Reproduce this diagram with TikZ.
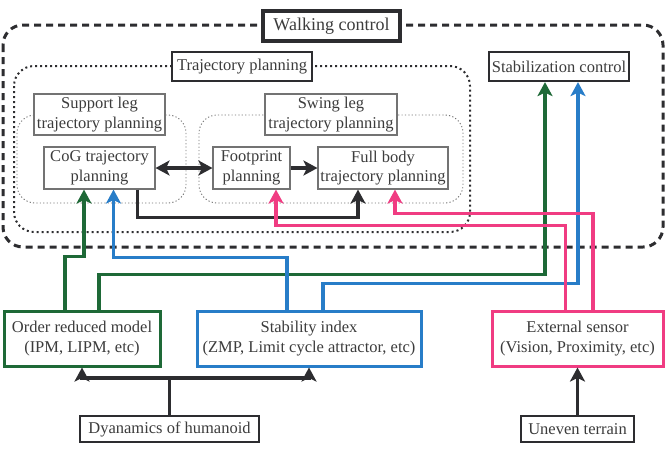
\documentclass[tikz,border=0pt]{standalone}
\usepackage{fontspec}
\setmainfont{Liberation Serif}
\usetikzlibrary{arrows.meta}
\definecolor{cgreen}{RGB}{30,105,55}
\definecolor{cblue}{RGB}{40,125,200}
\definecolor{cpink}{RGB}{240,60,130}
\definecolor{cdark}{RGB}{45,45,48}
\definecolor{ctext}{RGB}{60,60,60}
\definecolor{cgrayb}{RGB}{115,115,115}
\tikzset{
  txt/.style={font=\fontsize{16.5}{19.5}\selectfont, text=ctext, align=center, inner sep=0pt},
  bigbox/.style={txt, draw=cdark, line width=2.2pt, fill=white},
  smallbox/.style={txt, draw=cgrayb, line width=1.1pt, fill=white},
  colbox/.style={txt, line width=3pt, fill=white},
  arr/.style={line width=3.6pt, -{Stealth[length=14pt,width=15pt,inset=3.5pt]}},
  dblarr/.style={line width=3.6pt, {Stealth[length=14pt,width=15pt,inset=3.5pt]}-{Stealth[length=14pt,width=15pt,inset=3.5pt]}},
}
\begin{document}
\begin{tikzpicture}[x=1pt,y=-1pt]
\useasboundingbox (0,0) rectangle (669,451);
% containers
\draw[cdark, line width=3pt, dash pattern=on 7pt off 5pt, rounded corners=20pt] (3,25) rectangle (663,247);
\draw[cdark, line width=2pt, dash pattern=on 2pt off 3pt, rounded corners=20pt] (14,66) rectangle (470,232);
\draw[cgrayb, line width=0.9pt, dash pattern=on 1.2pt off 2.2pt, rounded corners=18pt] (17,115) rectangle (186,203);
\draw[cgrayb, line width=0.9pt, dash pattern=on 1.2pt off 2.2pt, rounded corners=18pt] (199,115) rectangle (463,203);
% top labels
\node[bigbox, line width=3.2pt, font=\fontsize{18}{20}\selectfont, minimum width=137pt, minimum height=30pt] (walk) at (331.5,26) {Walking control};
\node[bigbox, minimum width=140pt, minimum height=29pt] (traj) at (242,66.5) {Trajectory planning};
\node[bigbox, minimum width=140pt, minimum height=29pt] (stabc) at (559,66.5) {Stabilization control};
% inner boxes
\node[smallbox, minimum width=131pt, minimum height=41pt] (sup) at (99.5,114.5) {Support leg\\trajectory planning};
\node[smallbox, minimum width=132pt, minimum height=41pt] (swing) at (331,114.5) {Swing leg\\trajectory planning};
\node[smallbox, minimum width=111pt, minimum height=42pt] (cog) at (99.5,168) {CoG trajectory\\planning};
\node[smallbox, minimum width=77pt, minimum height=42pt] (foot) at (251.5,168) {Footprint\\planning};
\node[smallbox, minimum width=130pt, minimum height=42pt] (full) at (383,168) {Full body\\trajectory planning};
% bottom boxes
\node[colbox, draw=cgreen, minimum width=156pt, minimum height=55pt] (ord) at (82,338.5) {Order reduced model\\(IPM, LIPM, etc)};
\node[colbox, draw=cblue, minimum width=224pt, minimum height=55pt] (stab) at (309,338.5) {Stability index\\(ZMP, Limit cycle attractor, etc)};
\node[colbox, draw=cpink, minimum width=171pt, minimum height=55pt] (ext) at (577.5,338.5) {External sensor\\(Vision, Proximity, etc)};
\node[bigbox, minimum width=179pt, minimum height=26pt] (dyn) at (169.5,429) {Dyanamics of humanoid};
\node[bigbox, minimum width=113pt, minimum height=26pt] (unev) at (577.5,429) {Uneven terrain};
% black connectors
\draw[arr, cdark] (dyn.north) -- ++(0,-37) -| (ord.south);
\draw[arr, cdark] (dyn.north) -- ++(0,-37) -| (stab.south);
\draw[arr, cdark] (unev.north) -- (ext.south);
\draw[dblarr, cdark] (cog.east) -- (foot.west);
\draw[arr, cdark] (foot.east) -- (full.west);
\draw[arr, cdark] ([xshift=38pt]cog.south) -- ++(0,28) -| ([xshift=-25pt]full.south);
% green
\draw[arr, cgreen] ([xshift=-17pt]ord.north) -- ++(0,-53) -| ([xshift=-15.5pt]cog.south);
\draw[arr, cgreen] ([xshift=17pt]ord.north) -- ++(0,-35) -| ([xshift=-14pt]stabc.south);
% blue
\draw[arr, cblue] ([xshift=-22pt]stab.north) -- ++(0,-52) -| ([xshift=14pt]cog.south);
\draw[arr, cblue] ([xshift=14pt]stab.north) -- ++(0,-26) -| ([xshift=19pt]stabc.south);
% pink
\draw[arr, cpink] ([xshift=-12pt]ext.north) -- ++(0,-84) -| ([xshift=24.5pt]foot.south);
\draw[arr, cpink] ([xshift=15.5pt]ext.north) -- ++(0,-96) -| ([xshift=12pt]full.south);
\end{tikzpicture}
\end{document}
